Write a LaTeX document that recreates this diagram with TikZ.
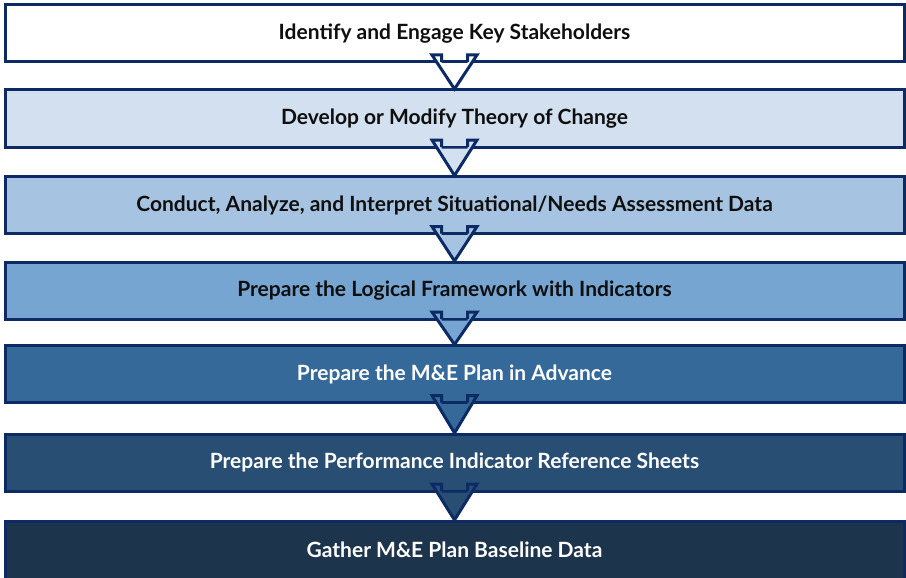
\documentclass[tikz,border=0pt]{standalone}
\usepackage{fontspec}
\setmainfont{Lato}
\usetikzlibrary{calc}
\definecolor{navy}{RGB}{12,42,100}
\definecolor{cA}{RGB}{255,255,255}
\definecolor{cB}{RGB}{210,224,239}
\definecolor{cC}{RGB}{166,196,226}
\definecolor{cD}{RGB}{118,165,209}
\definecolor{cE}{RGB}{52,105,153}
\definecolor{cF}{RGB}{40,78,115}
\definecolor{cG}{RGB}{29,52,77}
\definecolor{txtdark}{RGB}{15,15,15}
\tikzset{
  stepbox/.style={draw=navy, line width=3pt, minimum width=899pt, minimum height=57pt,
    outer sep=0pt, inner sep=0pt, font=\fontsize{21}{24}\selectfont\bfseries},
  darktext/.style={text=txtdark},
  lighttext/.style={text=white},
  arrowline/.style={draw=navy, line width=3pt, line join=miter, line cap=butt},
}
\newcommand{\flowarrow}[3]{%
  \fill[#3] ($(#1.south)+(-13,1.5)$) -- ($(#1.south)+(-13,-7)$) -- ($(#1.south)+(-22.5,-7)$)
     -- ($(#2.north)+(0,-1)$) -- ($(#1.south)+(22.5,-7)$) -- ($(#1.south)+(13,-7)$) -- ($(#1.south)+(13,1.5)$) -- cycle;
  \draw[arrowline] ($(#1.south)+(-13,0)$) -- ($(#1.south)+(-13,-7)$) -- ($(#1.south)+(-22.5,-7)$)
     -- ($(#2.north)+(0,-1)$) -- ($(#1.south)+(22.5,-7)$) -- ($(#1.south)+(13,-7)$) -- ($(#1.south)+(13,0)$);
}
\begin{document}
\begin{tikzpicture}[x=1pt,y=-1pt]
\useasboundingbox (0,0) rectangle (906,578);
\node[stepbox, fill=cA, darktext] (s1) at (454.5,33.5) {Identify and Engage Key Stakeholders};
\node[stepbox, fill=cB, darktext] (s2) at (454.5,118.5) {Develop or Modify Theory of Change};
\node[stepbox, fill=cC, darktext] (s3) at (454.5,205) {Conduct, Analyze, and Interpret Situational/Needs Assessment Data};
\node[stepbox, fill=cD, darktext] (s4) at (454.5,290.5) {Prepare the Logical Framework with Indicators};
\node[stepbox, fill=cE, lighttext] (s5) at (454.5,374) {Prepare the M\&E Plan in Advance};
\node[stepbox, fill=cF, lighttext] (s6) at (454.5,462.5) {Prepare the Performance Indicator Reference Sheets};
\node[stepbox, fill=cG, lighttext, minimum height=58pt] (s7) at (454.5,550) {Gather M\&E Plan Baseline Data};
\flowarrow{s1}{s2}{cA}
\flowarrow{s2}{s3}{cB}
\flowarrow{s3}{s4}{cC}
\flowarrow{s4}{s5}{cD}
\flowarrow{s5}{s6}{cE}
\flowarrow{s6}{s7}{cF}
\end{tikzpicture}
\end{document}
